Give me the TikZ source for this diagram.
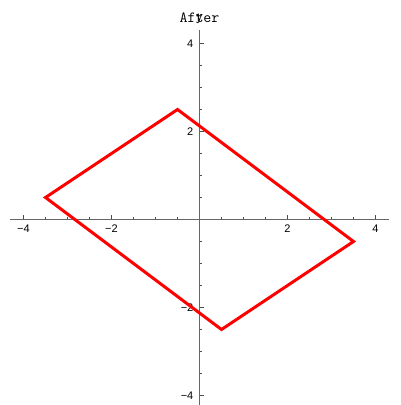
\documentclass[tikz,border=0pt]{standalone}
\usepackage{fontspec}
\setmainfont{Liberation Sans}
\begin{document}
\begin{tikzpicture}[x=1pt,y=1pt,
  axisline/.style={draw=black!60, line width=0.8pt},
  majortick/.style={draw=black!70, line width=0.6pt},
  minortick/.style={draw=black!70, line width=0.5pt},
  ticklab/.style={inner sep=0pt, font=\fontsize{11}{12}\selectfont},
  shapeline/.style={draw=red, line width=3pt, line join=miter}]
\useasboundingbox (0,0) rectangle (401,405);
\begin{scope}[shift={(199.5,185.5)}, x=44pt, y=44pt]
  % axes
  \coordinate (xl) at (-4.31,0);
  \coordinate (xr) at (4.3,0);
  \coordinate (yb) at (0,-4.22);
  \coordinate (yt) at (0,4.3);
  \draw[axisline] (xl) -- (xr);
  \draw[axisline] (yb) -- (yt);
  % ticks
  \foreach \t in {-4,-2,2,4} {
    \draw[majortick] (\t,0) -- ++(0,4pt);
    \draw[majortick] (0,\t) -- ++(4pt,0);
  }
  \foreach \t in {-3.5,-3,-2.5,-1.5,-1,-0.5,0.5,1,1.5,2.5,3,3.5} {
    \draw[minortick] (\t,0) -- ++(0,2.2pt);
    \draw[minortick] (0,\t) -- ++(2.2pt,0);
  }
  % tick labels
  \node[ticklab, anchor=north] (lxm4) at ([yshift=-5.5pt]-4,0) {−4};
  \node[ticklab, anchor=north] (lxm2) at ([yshift=-5.5pt]-2,0) {−2};
  \node[ticklab, anchor=north] (lx2) at ([yshift=-5.5pt]2,0) {2};
  \node[ticklab, anchor=north] (lx4) at ([yshift=-5.5pt]4,0) {4};
  \node[ticklab, anchor=east] (ly4) at ([xshift=-6pt]0,4) {4};
  \node[ticklab, anchor=east] (ly2) at ([xshift=-6pt]0,2) {2};
  \node[ticklab, anchor=east] (lym2) at ([xshift=-6pt]0,-2) {−2};
  \node[ticklab, anchor=east] (lym4) at ([xshift=-6pt]0,-4) {−4};
  % polygon
  \coordinate (pl) at (-3.5,0.5);
  \coordinate (pt) at (-0.5,2.5);
  \coordinate (pr) at (3.5,-0.5);
  \coordinate (pb) at (0.5,-2.5);
  \draw[shapeline] (pl) -- (pt) -- (pr) -- (pb) -- cycle;
  % title and y label
  \node[inner sep=0pt, font=\ttfamily\fontsize{15.5}{16}\selectfont] (title) at (0,4.58) {After};
  \node[inner sep=0pt, font=\ttfamily\fontsize{14}{15}\selectfont] (ylab) at (0,4.555) {y};
\end{scope}
\end{tikzpicture}
\end{document}
